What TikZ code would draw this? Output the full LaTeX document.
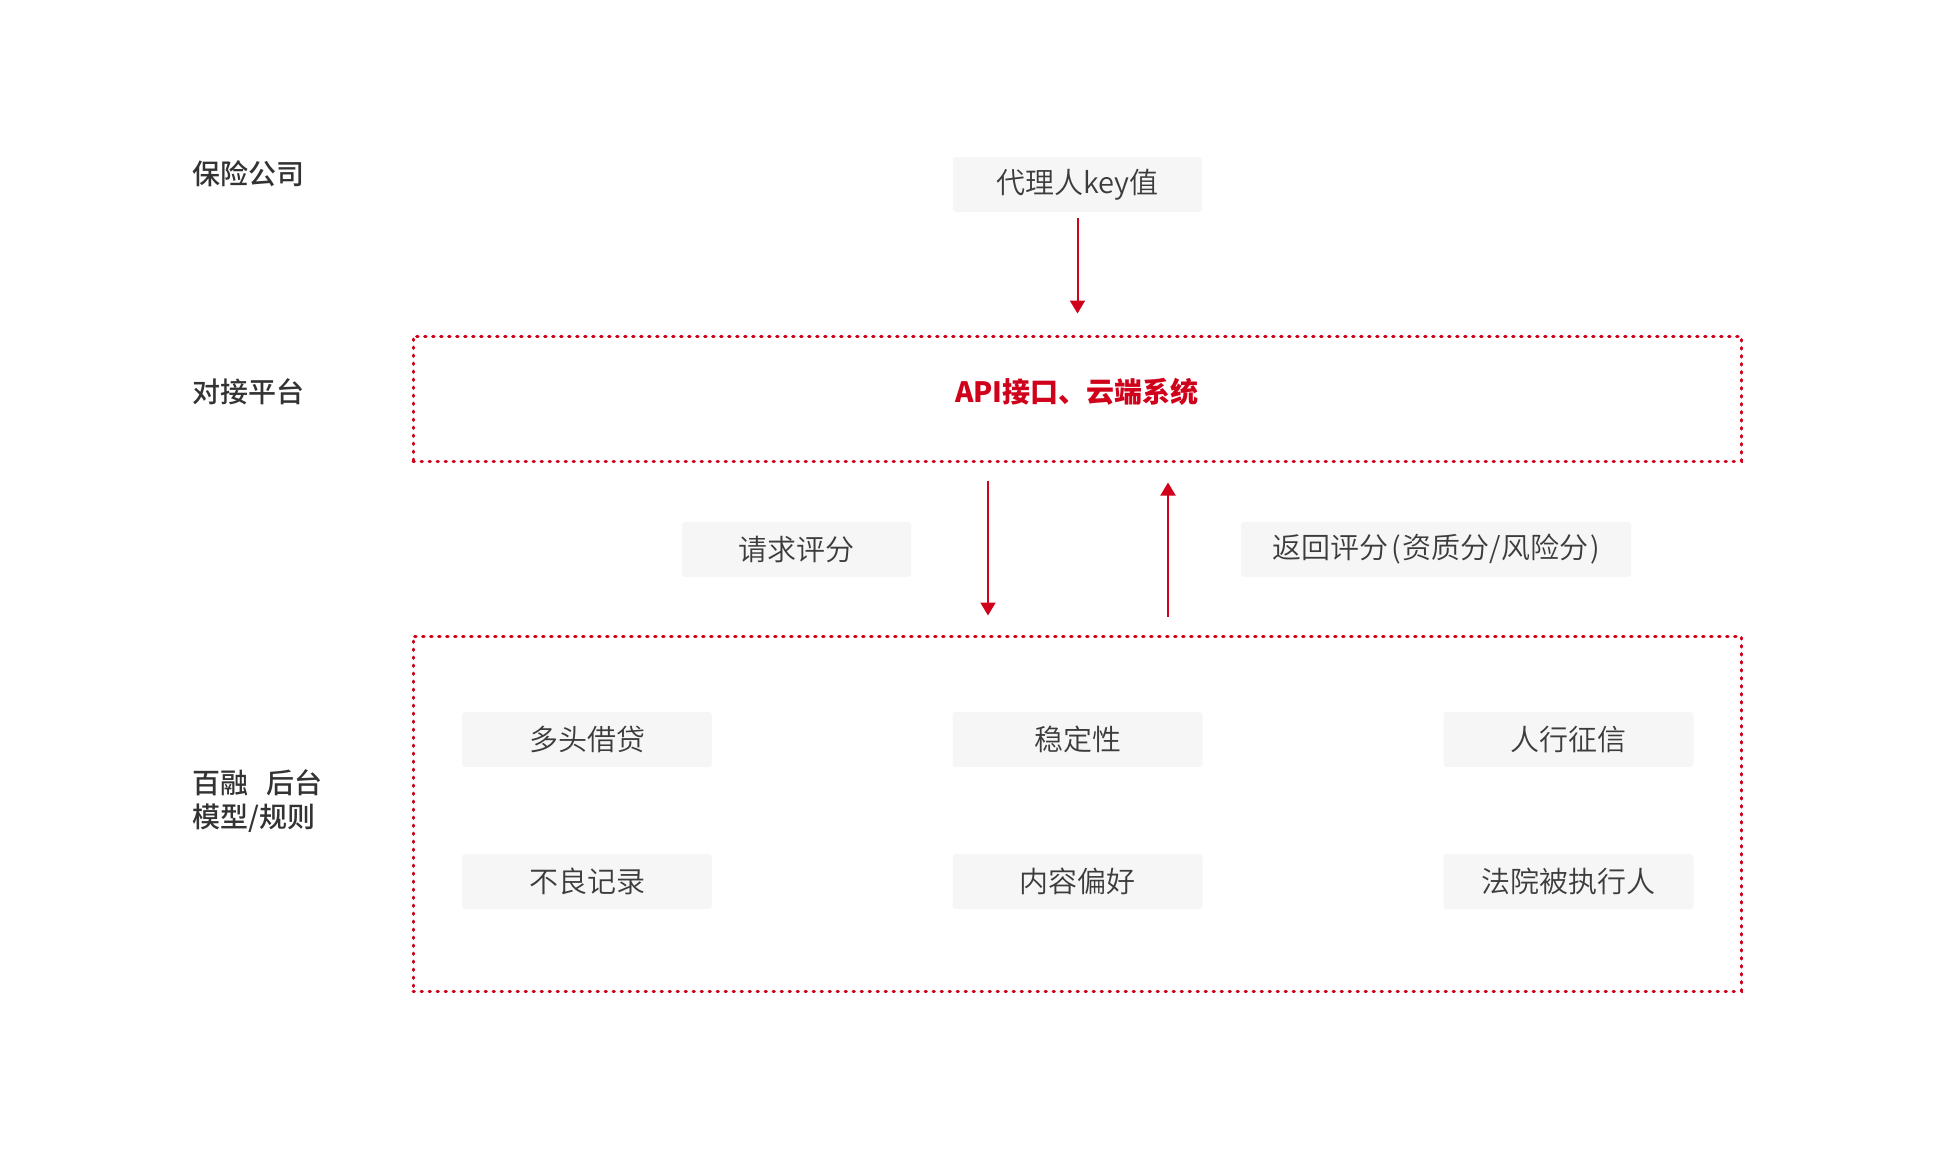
\documentclass[tikz,border=0pt]{standalone}
\usepackage{fontspec}
\setmainfont{Noto Sans CJK SC}
\newfontfamily\medfont{Noto Sans CJK SC}[UprightFont={* Medium}]
\newfontfamily\lightfont{Noto Sans CJK SC}[UprightFont={* DemiLight}]
\usetikzlibrary{arrows.meta}
\definecolor{brred}{HTML}{D0021B}
\definecolor{boxgray}{HTML}{F6F6F6}
\definecolor{txtgray}{HTML}{3C3C3C}

\begin{document}
\begin{tikzpicture}[x=1pt,y=-1pt,
  tag/.style={fill=boxgray,rounded corners=3pt,minimum height=55pt,inner sep=0pt,
    text=txtgray,font=\lightfont\fontsize{29}{34}\selectfont},
  zone/.style={draw=brred,line width=3pt,line cap=round,dash pattern=on 1.4pt off 6.6pt,inner sep=0pt},
  level/.style={anchor=west,align=left,text=black!80,font=\medfont\fontsize{28}{34}\selectfont},
  flow/.style={draw=brred,line width=2pt,-{Triangle[width=15pt,length=13pt]}}]

\useasboundingbox (0,0) rectangle (1935,1168);

% layers
\node [level] (lvcompany) at (189,174) {保险公司};
\node [level] (lvplatform) at (189,392) {对接平台};
\node [level] (lvbackend) at (189,801) {百融\hspace{18pt}后台\\模型/规则};

% nodes
\node [tag, minimum width=249pt] (key) at (1077.5,184.5) {代理人key值};
\node [zone, minimum width=1328pt, minimum height=125pt] (platform) at (1077,398.5) {};
\node [text=brred, font=\bfseries\fontsize{28}{34}\selectfont] (api) at (1077,392) {API接口、云端系统};
\node [zone, minimum width=1328pt, minimum height=355pt] (backend) at (1077,813.5) {};

\node [tag, minimum width=229pt] (request) at (796.5,549.5) {请求评分};
\node [tag, minimum width=390pt] (reply) at (1436,549.5)
  {返回评分\hspace{3pt}(\hspace{2pt}资质分/风险分\hspace{2pt})};

\node [tag, minimum width=250pt] (multi) at (587,739.5) {多头借贷};
\node [tag, minimum width=250pt] (stable) at (1077.5,739.5) {稳定性};
\node [tag, minimum width=250pt] (credit) at (1568.5,739.5) {人行征信};
\node [tag, minimum width=250pt] (record) at (587,881.5) {不良记录};
\node [tag, minimum width=250pt] (prefer) at (1077.5,881.5) {内容偏好};
\node [tag, minimum width=250pt] (court) at (1568.5,881.5) {法院被执行人};

% arrows
\draw [flow, shorten <=6pt, shorten >=21pt] (key) -- (key |- platform.north);
\draw [flow, shorten <=18pt, shorten >=19pt] ([xshift=-89pt]platform.south) -- ([xshift=-89pt]backend.north);
\draw [flow, shorten <=18pt, shorten >=20pt] ([xshift=91pt]backend.north) -- ([xshift=91pt]platform.south);

\end{tikzpicture}
\end{document}
